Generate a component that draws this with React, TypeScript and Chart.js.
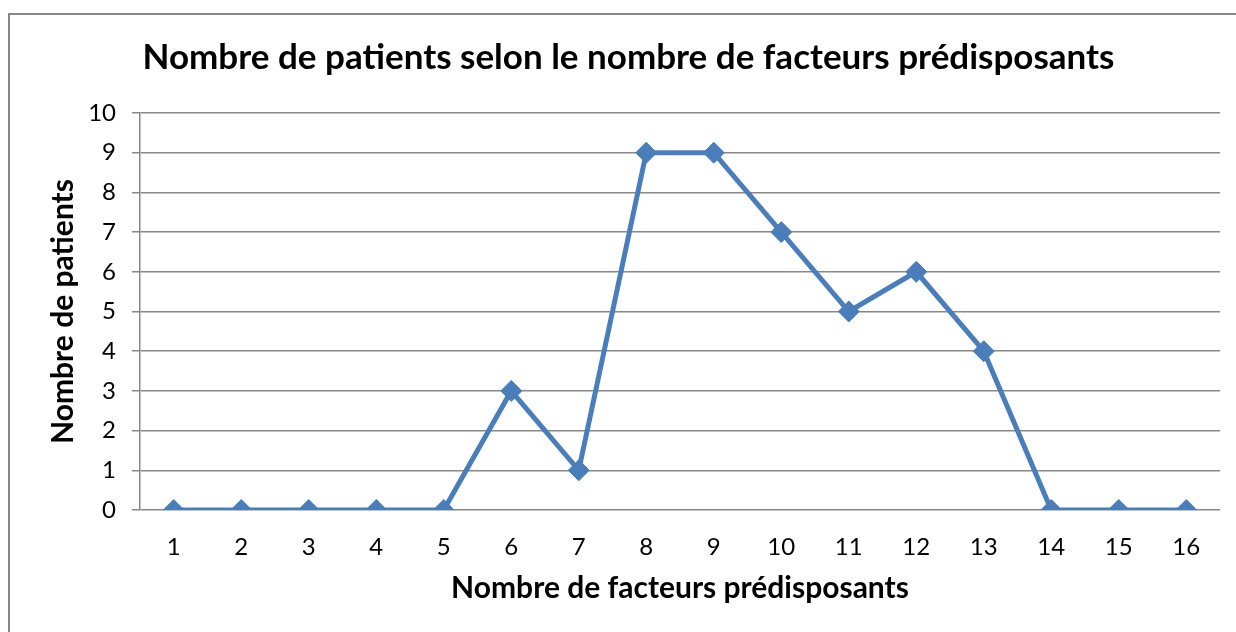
import React, { useEffect, useRef } from "react";
import { Chart, registerables } from "chart.js";

Chart.register(...registerables);

const categories = ["1", "2", "3", "4", "5", "6", "7", "8", "9", "10", "11", "12", "13", "14", "15", "16"];
const patients = [0, 0, 0, 0, 0, 3, 1, 9, 9, 7, 5, 6, 4, 0, 0, 0];
const chartTitle = "Nombre de patients selon le nombre de facteurs prédisposants";
const xTitle = "Nombre de facteurs prédisposants";
const yTitle = "Nombre de patients";

const FONT = "Lato, 'Open Sans', sans-serif";

const borderPlugin = {
  id: "outerBorder",
  beforeDraw(chart: any) {
    const ctx = chart.ctx;
    ctx.save();
    ctx.fillStyle = "#ffffff";
    ctx.fillRect(0, 0, chart.width, chart.height);
    ctx.strokeStyle = "#878787";
    ctx.lineWidth = 2;
    ctx.strokeRect(9, 14, chart.width + 20, chart.height + 20);
    ctx.restore();
  },
};

export default function App() {
  const ref = useRef<HTMLCanvasElement | null>(null);

  useEffect(() => {
    document.body.style.margin = "0";
    const canvas = ref.current;
    if (!canvas) return;
    const chart = new Chart(canvas, {
      type: "line",
      data: {
        labels: categories,
        datasets: [
          {
            data: patients,
            borderColor: "#4a7ebb",
            backgroundColor: "#4a7ebb",
            borderWidth: 5,
            pointStyle: "rectRot",
            pointRadius: 10.5,
            pointBorderWidth: 1,
            pointBorderColor: "#4a7ebb",
            pointBackgroundColor: "#4a7ebb",
            tension: 0,
          },
        ],
      },
      options: {
        responsive: false,
        animation: false,
        layout: { padding: { left: 37, right: 16, top: 20, bottom: 0 } },
        plugins: {
          legend: { display: false },
          tooltip: { enabled: false },
          title: {
            display: true,
            text: chartTitle,
            color: "#000000",
            font: { family: FONT, size: 35, weight: "bold" },
            padding: { top: 17, bottom: 34 },
          },
        },
        scales: {
          x: {
            offset: true,
            grid: { display: false, drawTicks: false },
            border: { display: false },
            ticks: {
              color: "#000000",
              font: { family: FONT, size: 24 },
              padding: 23,
              maxRotation: 0,
            },
            title: {
              display: true,
              text: xTitle,
              color: "#000000",
              font: { family: FONT, size: 30, weight: "bold" },
              padding: { top: 0, bottom: 26 },
            },
            afterFit(scale: any) {
              scale.height = 632 - 510;
            },
          },
          y: {
            min: 0,
            max: 10,
            ticks: {
              stepSize: 1,
              color: "#000000",
              font: { family: FONT, size: 24 },
              padding: 16,
            },
            grid: {
              color: "#888888",
              lineWidth: 1.5,
              drawTicks: true,
              tickLength: 8,
            },
            border: { display: true, color: "#888888", width: 1.5 },
            title: {
              display: true,
              text: yTitle,
              color: "#000000",
              font: { family: FONT, size: 30, weight: "bold" },
              padding: { top: 8, bottom: 0 },
            },
            afterFit(scale: any) {
              scale.width = 140 - 37;
            },
          },
        },
      },
      plugins: [borderPlugin],
    });
    return () => chart.destroy();
  }, []);

  return (
    <div style={{ width: 1236, height: 632 }}>
      <canvas ref={ref} width={1236} height={632} style={{ display: "block" }} />
    </div>
  );
}
